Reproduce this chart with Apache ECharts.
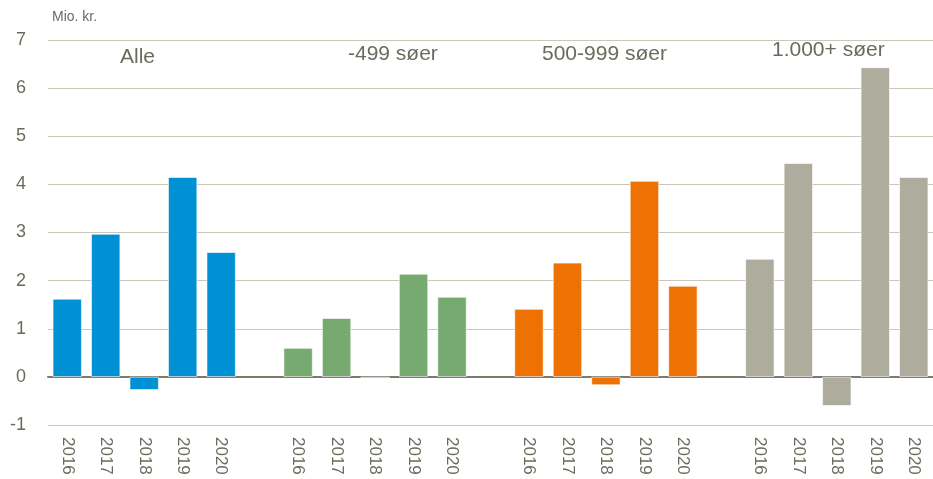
<!DOCTYPE html>
<html>
<head>
<meta charset="utf-8">
<title>Mio. kr.</title>
<style>
html,body{margin:0;padding:0;width:100%;height:100%;background:#fff;}
#main{width:933px;height:479px;}
</style>
</head>
<body>
<div id="main"></div>
<script src="https://cdn.jsdelivr.net/npm/echarts@6/dist/echarts.min.js"></script>
<script>
// data
var years = ['2016', '2017', '2018', '2019', '2020'];
var groups = ['Alle', '-499 søer', '500-999 søer', '1.000+ søer'];
var alle = [1.62, 2.97, -0.27, 4.15, 2.59];
var small = [0.60, 1.22, -0.03, 2.14, 1.66];
var medium = [1.41, 2.37, -0.17, 4.07, 1.89];
var large = [2.45, 4.44, -0.60, 6.43, 4.15];
var yTicks = [-1, 0, 1, 2, 3, 4, 5, 6, 7];

var colors = ['#0090d4', '#77aa70', '#ee7203', '#aeac9d'];
var txt = '#6b6b5c';
var font = 'Liberation Sans, Arial, sans-serif';

// 5 years per group, one blank slot between groups
var cats = [];
var seriesData = [alle, small, medium, large];
groups.forEach(function (g, gi) {
  years.forEach(function (y) { cats.push(y); });
  if (gi < groups.length - 1) cats.push('');
});

var series = seriesData.map(function (vals, gi) {
  var d = cats.map(function () { return '-'; });
  vals.forEach(function (v, i) { d[gi * 6 + i] = v; });
  return {
    name: groups[gi],
    type: 'bar',
    stack: 'all',
    barWidth: 29,
    data: d,
    itemStyle: { color: colors[gi], borderColor: '#ffffff', borderWidth: 0.6 }
  };
});

var myChart = echarts.init(document.getElementById('main'));
myChart.setOption({
  animation: false,
  textStyle: { fontFamily: font },
  grid: { left: 48, right: 0, top: 40, bottom: 54, containLabel: false, outerBoundsMode: 'none' },
  xAxis: {
    type: 'category',
    data: cats,
    axisTick: { show: false },
    axisLine: { onZero: true, lineStyle: { color: '#7b7a6c', width: 2 } },
    axisLabel: {
      rotate: -90,
      interval: 0,
      color: txt,
      fontSize: 17,
      margin: 12
    }
  },
  yAxis: {
    type: 'value',
    min: yTicks[0],
    max: yTicks[yTicks.length - 1],
    interval: 1,
    axisLine: { show: false },
    axisTick: { show: false },
    axisLabel: { color: txt, fontSize: 18, margin: 22 },
    splitLine: { lineStyle: { color: '#c9c7b9', width: 1.2 } }
  },
  graphic: [
    { type: 'text', left: 52, top: 10, style: { text: 'Mio. kr.', fill: txt, fontSize: 14, fontFamily: font } },
    { type: 'text', left: 120, top: 47, style: { text: groups[0], fill: txt, fontSize: 21, fontFamily: font } },
    { type: 'text', left: 348, top: 44, style: { text: groups[1], fill: txt, fontSize: 21, fontFamily: font } },
    { type: 'text', left: 542, top: 44, style: { text: groups[2], fill: txt, fontSize: 21, fontFamily: font } },
    { type: 'text', left: 772, top: 40, style: { text: groups[3], fill: txt, fontSize: 21, fontFamily: font } }
  ],
  series: series
});
</script>
</body>
</html>
